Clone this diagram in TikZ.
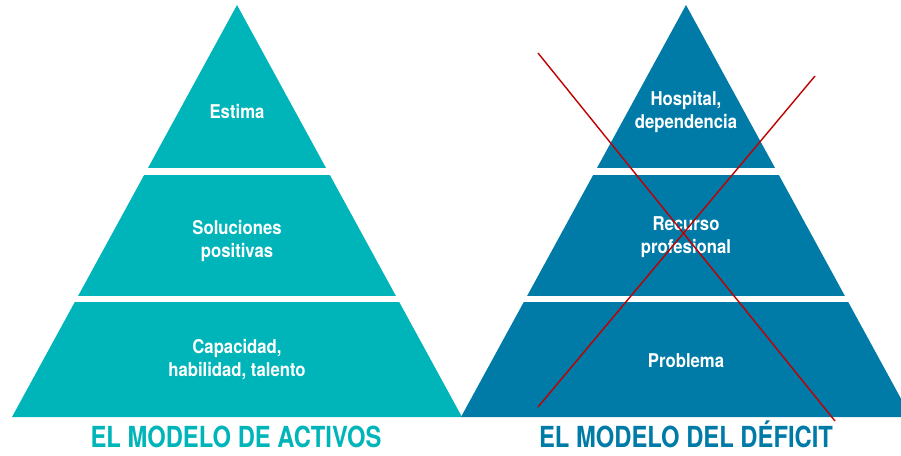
\documentclass[tikz,border=0pt]{standalone}
\usepackage{fontspec}
\setmainfont{TeX Gyre Heros}[FakeStretch=0.88]
\newfontfamily\titlefont{TeX Gyre Heros}[FakeStretch=0.82]
\definecolor{activos}{HTML}{00B5BA}
\definecolor{deficit}{HTML}{007BA7}
\definecolor{cruz}{HTML}{C00000}
\tikzset{
  level/.style={text=white,align=center,font=\bfseries\fontsize{19}{23}\selectfont},
  titulo/.style={inner sep=0pt,anchor=base,font=\titlefont\bfseries\fontsize{29}{29}\selectfont}
}

\begin{document}
\begin{tikzpicture}[x=1pt,y=-1pt]
        \clip (0,0) rectangle (901,455);
        \fill[white] (0,0) rectangle (901,455);
        % the two pyramids
        \fill[activos] (237,5) -- (12,417) -- (462,417) -- cycle;
        \fill[deficit] (686,5) -- (461,417) -- (911,417) -- cycle;
        % white gaps between the levels
        \fill[white] (0,168) rectangle (901,174.5);
        \fill[white] (0,295.5) rectangle (901,302);
        % left pyramid
        \node[level] (estima) at (237,112) {Estima};
        \node[level] (soluciones) at (237,241) {Soluciones\\positivas};
        \node[level] (capacidad) at (237,360) {Capacidad,\\habilidad, talento};
        \node[titulo,text=activos] (activos) at (236,447.5) {EL MODELO DE ACTIVOS};
        % right pyramid
        \node[level] (hospital) at (686,112) {Hospital,\\dependencia};
        \node[level] (recurso) at (686,237) {Recurso\\profesional};
        \node[level] (problema) at (686,361) {Problema};
        \node[titulo,text=deficit] (deficit) at (686,447.5) {EL MODELO DEL DÉFICIT};
        % the cross
        \coordinate (c1) at (538,53);
        \coordinate (c2) at (835,421);
        \coordinate (c3) at (815,76);
        \coordinate (c4) at (538,407);
        \draw[cruz,line width=1.4pt] (c1) -- (c2);
        \draw[cruz,line width=1.4pt] (c3) -- (c4);
    \end{tikzpicture}
\end{document}
